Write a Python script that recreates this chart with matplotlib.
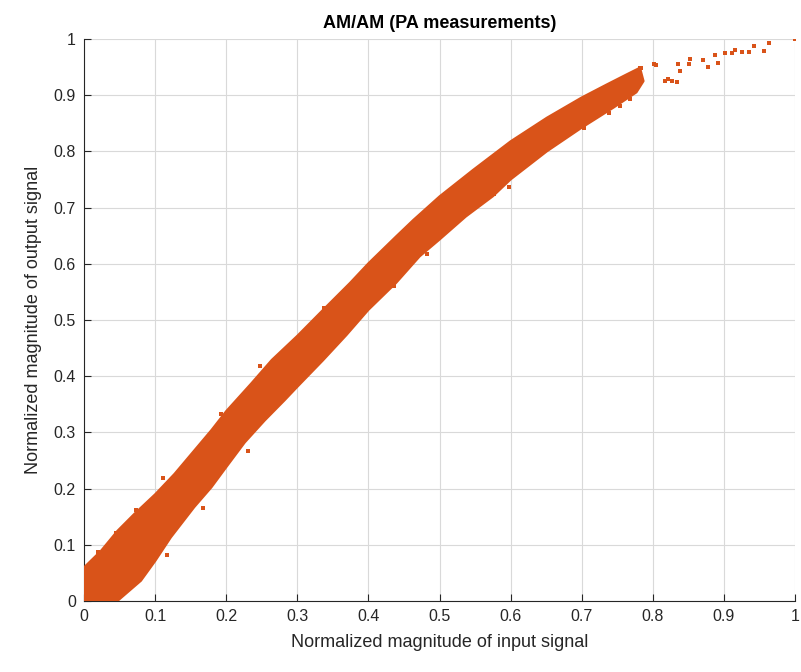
import numpy as np
import matplotlib
matplotlib.use('Agg')
import matplotlib.pyplot as plt

upper_x = [0.0, 0.0235, 0.047, 0.0706, 0.1, 0.127, 0.155, 0.179, 0.2, 0.235,
           0.264, 0.3, 0.336, 0.374, 0.4, 0.439, 0.463, 0.5, 0.547, 0.6,
           0.651, 0.7, 0.735, 0.763, 0.782]
upper_y = [0.06, 0.089, 0.125, 0.155, 0.19, 0.226, 0.268, 0.304, 0.338, 0.387,
           0.429, 0.472, 0.518, 0.566, 0.601, 0.649, 0.678, 0.72, 0.767, 0.818,
           0.86, 0.896, 0.919, 0.937, 0.949]
lower_x = [0.0, 0.047, 0.08, 0.1, 0.122, 0.155, 0.179, 0.2, 0.226, 0.254,
           0.282, 0.3, 0.336, 0.369, 0.4, 0.439, 0.472, 0.5, 0.537, 0.575,
           0.6, 0.651, 0.7, 0.745, 0.777, 0.787]
lower_y = [0.0, 0.0, 0.036, 0.071, 0.113, 0.167, 0.202, 0.238, 0.282, 0.321,
           0.357, 0.381, 0.428, 0.473, 0.518, 0.566, 0.613, 0.643, 0.684, 0.72,
           0.75, 0.8, 0.842, 0.878, 0.905, 0.925]

# Single scattered samples (edge outliers and the sparse tail)
pts_x = [0.019, 0.045, 0.073, 0.1105, 0.117, 0.167, 0.193, 0.230, 0.248, 0.3375,
         0.436, 0.483, 0.576, 0.598, 0.703, 0.738, 0.754, 0.768, 0.782, 0.784,
         0.801, 0.805, 0.817, 0.821, 0.827, 0.834, 0.836, 0.838, 0.851, 0.852,
         0.871, 0.877, 0.888, 0.892, 0.901, 0.911, 0.915, 0.925, 0.936, 0.943,
         0.957, 0.964, 1.0]
pts_y = [0.088, 0.121, 0.162, 0.219, 0.082, 0.166, 0.332, 0.266, 0.418, 0.522,
         0.560, 0.617, 0.725, 0.737, 0.842, 0.869, 0.881, 0.893, 0.949, 0.948,
         0.955, 0.954, 0.925, 0.929, 0.925, 0.924, 0.955, 0.943, 0.955, 0.964,
         0.963, 0.951, 0.971, 0.958, 0.975, 0.975, 0.980, 0.976, 0.977, 0.988,
         0.979, 0.992, 1.0]

ticks = [0, 0.1, 0.2, 0.3, 0.4, 0.5, 0.6, 0.7, 0.8, 0.9, 1]
tick_labels = ['0', '0.1', '0.2', '0.3', '0.4', '0.5', '0.6', '0.7', '0.8', '0.9', '1']

color = '#D95319'
plt.rcParams['font.family'] = ['Liberation Sans', 'DejaVu Sans']

fig = plt.figure(figsize=(8.01, 6.72), dpi=100)
ax = fig.add_axes([0.105, 0.1057, 0.8875, 0.8363])

# outline = upper edge left->right, then lower edge right->left
outline_x = upper_x + lower_x[::-1]
outline_y = upper_y + lower_y[::-1]
ax.fill(outline_x, outline_y, facecolor=color, edgecolor=color,
        linewidth=1.5, joinstyle='round', zorder=3)
ax.scatter(pts_x, pts_y, s=9, marker='s', color=color, linewidths=0, zorder=3)

ax.set_xlim(0, 1)
ax.set_ylim(0, 1)
ax.set_xticks(ticks)
ax.set_xticklabels(tick_labels)
ax.set_yticks(ticks)
ax.set_yticklabels(tick_labels)
ax.tick_params(direction='in', length=5, width=0.8, labelsize=11.5,
               colors='#262626', pad=6)
ax.grid(True, color='#d9d9d9', linewidth=0.8)
ax.set_axisbelow(True)
for side in ['top', 'right']:
    ax.spines[side].set_visible(False)
for side in ['left', 'bottom']:
    ax.spines[side].set_color('#262626')
    ax.spines[side].set_linewidth(0.8)

ax.set_xlabel('Normalized magnitude of input signal', fontsize=13, color='#262626', labelpad=7)
ax.set_ylabel('Normalized magnitude of output signal', fontsize=13, color='#262626', labelpad=8)
ax.set_title('AM/AM (PA measurements)', fontsize=13, fontweight='bold', color='black', pad=8)

fig.savefig('out.png', dpi=100)
